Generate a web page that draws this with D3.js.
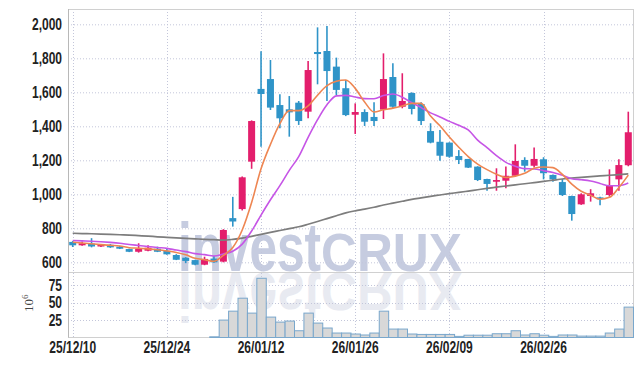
<!DOCTYPE html>
<html>
  <head>
    <meta charset="utf-8" />
    <script src="https://d3js.org/d3.v7.min.js"></script>
    <style>
      body { margin: 0; background: #fff; }
      .lbl { font-family: "Liberation Sans", Arial, sans-serif; font-size: 16px; font-weight: bold; fill: #222; }
    </style>
  </head>
  <body>
    <script>
      // trading days shown on the chart
      const dates = [
        "25/12/10","25/12/11","25/12/12","25/12/15","25/12/16","25/12/17","25/12/18","25/12/19","25/12/22","25/12/23",
        "25/12/24","25/12/26","25/12/29","25/12/30","26/01/02","26/01/05","26/01/06","26/01/07","26/01/08","26/01/09",
        "26/01/12","26/01/13","26/01/14","26/01/15","26/01/16","26/01/19","26/01/20","26/01/21","26/01/22","26/01/23",
        "26/01/26","26/01/27","26/01/28","26/01/29","26/01/30","26/02/02","26/02/03","26/02/04","26/02/05","26/02/06",
        "26/02/09","26/02/10","26/02/11","26/02/12","26/02/13","26/02/19","26/02/20","26/02/23","26/02/24","26/02/25",
        "26/02/26","26/02/27","26/03/03","26/03/04","26/03/05","26/03/06","26/03/09","26/03/10","26/03/11","26/03/12"
      ];
      const tickDates = ["25/12/10", "25/12/24", "26/01/12", "26/01/26", "26/02/09", "26/02/26"];
      const priceTicks = [600, 800, 1000, 1200, 1400, 1600, 1800, 2000];
      const volTicks = [25, 50, 75];

      const open = [720,700,710,693,703,692,678,662,668,680, 668,643,627,613,586,622,604,860,913,1192,
        1620,1678,1525,1500,1539,1486,1837,1843,1751,1624, 1468,1484,1455,1498,1690,1515,1596,1531,1372,1309,
        1304,1225,1208,1163,1090,1074,1080,1109,1202,1168, 1206,1114,1072,990,941,990,982,996,1088,1171];
      const high = [725,722,742,708,708,697,680,712,700,692, 678,648,630,615,633,637,795,985,1105,1435,
        1842,1790,1588,1578,1549,1784,1982,1990,1804,1672, 1535,1500,1541,1829,1771,1712,1600,1541,1418,1378,
        1306,1260,1208,1165,1092,1153,1163,1294,1218,1276, 1218,1116,1090,992,1006,1030,985,1147,1206,1486];
      const low = [690,697,688,690,685,678,660,657,665,660, 645,613,595,583,583,598,600,810,905,1150,
        1280,1496,1388,1339,1408,1447,1647,1549,1584,1460, 1355,1402,1402,1443,1506,1506,1470,1408,1300,1198,
        1215,1178,1155,1078,1021,1021,1035,1103,1133,1157, 1088,1074,990,845,938,957,935,986,1021,1165];
      const close = [700,712,693,705,688,680,662,680,686,662, 647,615,608,586,620,600,790,840,1100,1431,
        1590,1510,1447,1482,1431,1731,1825,1725,1614,1466, 1484,1427,1431,1678,1515,1549,1502,1431,1304,1227,
        1221,1202,1157,1084,1061,1084,1109,1196,1168,1208, 1124,1088,996,884,1000,1006,971,1051,1172,1365];
      // volume in millions
      const volume = [0,0,0,0,0,0,0,0,0,0, 0,0,0,0,0,1,25,37.8,56.4,35,
        85,29.3,22.1,23.6,9.7,35,20.7,13.6,6.4,6.4, 5,3.6,6.4,37.8,12.1,12.1,5,4.4,4.4,4.4,
        4.4,1.6,3.3,3.3,3.3,5.4,5.4,9.7,3.6,5.4, 3.3,1.6,3.6,3.6,2,2,2,6.4,12.1,43.6];

      // moving averages as drawn
      const maShort = [718,714,709,704,700,696,686,683,679,674, 667,658,644,624,615,606,641,687,790,952,
        1150,1294,1416,1492,1492,1520,1583,1639,1665,1672, 1623,1543,1484,1497,1507,1520,1535,1535,1460,1403,
        1337,1277,1222,1178,1145,1118,1099,1107,1124,1153, 1161,1157,1117,1060,1018,995,971,982,1040,1113];
      const maMid = [728,726,724,721,717,712,705,699,693,687, 682,672,663,651,645,637,649,665,707,784,
        878,968,1051,1141,1222,1335,1439,1527,1579,1582, 1572,1563,1562,1581,1590,1571,1539,1510,1479,1455,
        1429,1406,1379,1319,1274,1227,1188,1165,1151,1149, 1139,1128,1112,1092,1086,1078,1064,1050,1050,1066];
      const maLong = [771,769,768,766,764,762,760,757,754,750, 747,744,741,738,735,733,731,735,742,753,
        764,776,787,798,809,824,840,857,874,891, 903,913,924,937,948,959,970,979,988,996,
        1004,1011,1019,1027,1035,1042,1049,1056,1062,1069, 1076,1083,1090,1095,1100,1104,1108,1112,1116,1120];

      const width = 642, height = 366;
      const plotLeft = 68, plotRight = 633, plotTop = 9, priceBottom = 272, volBottom = 337.5;

      const svg = d3.select("body").append("svg")
        .attr("width", width).attr("height", height);

      const x = d3.scaleBand().domain(dates).range([plotLeft, plotRight]).padding(0);
      const cx = (d) => x(d) + x.bandwidth() / 2;
      const y = d3.scaleLinear().domain([543, 2090]).range([priceBottom, plotTop]);
      const yVol = d3.scaleLinear().domain([0, 94]).range([volBottom, priceBottom]);

      const gridColor = "#c3c6da";

      // watermark + reflection
      function watermark(g, fill) {
        g.append("text").attr("x", 178).attr("y", 271)
          .attr("textLength", 143).attr("lengthAdjust", "spacingAndGlyphs")
          .style("font-family", "Liberation Sans").style("font-weight", "bold")
          .style("font-size", "68px").attr("fill", fill).text("invest");
        g.append("text").attr("x", 321).attr("y", 271)
          .attr("textLength", 141).attr("lengthAdjust", "spacingAndGlyphs")
          .style("font-family", "Liberation Sans").style("font-weight", "bold")
          .style("font-size", "53px").attr("fill", fill).text("CRUX");
      }
      watermark(svg.append("g"), "#c6cce0");
      watermark(svg.append("g").attr("transform", `translate(0,${priceBottom * 2}) scale(1,-1)`), "#e8eaf1");

      // grid
      svg.append("g").selectAll("line").data(priceTicks).join("line")
        .attr("x1", plotLeft).attr("x2", plotRight)
        .attr("y1", (d) => y(d) + 0.5).attr("y2", (d) => y(d) + 0.5)
        .attr("stroke", gridColor).attr("stroke-dasharray", "1,2");
      svg.append("g").selectAll("line").data(volTicks).join("line")
        .attr("x1", plotLeft).attr("x2", plotRight)
        .attr("y1", (d) => Math.round(yVol(d)) + 0.5).attr("y2", (d) => Math.round(yVol(d)) + 0.5)
        .attr("stroke", gridColor).attr("stroke-dasharray", "1,2");
      svg.append("g").selectAll("line").data(tickDates).join("line")
        .attr("x1", (d) => Math.round(cx(d)) + 0.5).attr("x2", (d) => Math.round(cx(d)) + 0.5)
        .attr("y1", plotTop).attr("y2", volBottom)
        .attr("stroke", gridColor).attr("stroke-dasharray", "1,2");

      // frame
      const frame = svg.append("g").attr("stroke", "#d0d0d0").attr("fill", "none");
      frame.append("line").attr("x1", plotLeft).attr("x2", plotRight + 0.5).attr("y1", plotTop + 0.5).attr("y2", plotTop + 0.5);
      frame.append("line").attr("x1", plotLeft).attr("x2", plotRight + 0.5).attr("y1", priceBottom + 0.5).attr("y2", priceBottom + 0.5);
      frame.append("line").attr("x1", plotLeft).attr("x2", plotRight + 0.5).attr("y1", volBottom).attr("y2", volBottom);
      frame.append("line").attr("x1", plotRight + 0.5).attr("x2", plotRight + 0.5).attr("y1", plotTop).attr("y2", volBottom);
      frame.append("line").attr("x1", plotLeft + 0.5).attr("x2", plotLeft + 0.5).attr("y1", plotTop).attr("y2", volBottom)
        .attr("stroke", "#b8b8b8");

      // volume bars
      svg.append("g").selectAll("rect").data(dates).join("rect")
        .attr("x", (d) => x(d) + 0.5)
        .attr("width", x.bandwidth())
        .attr("y", (d, i) => yVol(volume[i]))
        .attr("height", (d, i) => volBottom - yVol(volume[i]))
        .attr("fill", "#d8d8d8").attr("stroke", "#79a7cc").attr("stroke-width", 1)
        .attr("display", (d, i) => volume[i] > 0 ? null : "none");

      // candles
      const up = "#e31e6c", down = "#2f94c8";
      const candles = svg.append("g").selectAll("g").data(dates).join("g");
      candles.append("line")
        .attr("x1", cx).attr("x2", cx)
        .attr("y1", (d, i) => y(high[i])).attr("y2", (d, i) => y(low[i]))
        .attr("stroke", (d, i) => close[i] >= open[i] ? up : down)
        .attr("stroke-width", 1.6);
      const bw = 7;
      candles.append("rect")
        .attr("x", (d) => cx(d) - bw / 2).attr("width", bw)
        .attr("y", (d, i) => y(Math.max(open[i], close[i])))
        .attr("height", (d, i) => Math.max(1.5, Math.abs(y(open[i]) - y(close[i]))))
        .attr("fill", (d, i) => close[i] >= open[i] ? up : down);

      // moving averages
      const line = (vals) => d3.line()
        .x((d, i) => cx(dates[i]))
        .y((d) => y(d))
        .curve(d3.curveMonotoneX)(vals);
      svg.append("path").attr("d", line(maLong)).attr("fill", "none").attr("stroke", "#7d7d7d").attr("stroke-width", 1.7);
      svg.append("path").attr("d", line(maMid)).attr("fill", "none").attr("stroke", "#c655e6").attr("stroke-width", 1.6);
      svg.append("path").attr("d", line(maShort)).attr("fill", "none").attr("stroke", "#ee8652").attr("stroke-width", 1.6);

      // axes labels
      svg.append("g").attr("transform", `translate(${plotLeft},0)`)
        .call(d3.axisLeft(y).tickValues(priceTicks).tickSize(0).tickPadding(6).tickFormat(d3.format(",")))
        .call((g) => g.select(".domain").remove())
        .selectAll("text").attr("class", "lbl");
      svg.append("g").attr("transform", `translate(${plotLeft},0)`)
        .call(d3.axisLeft(yVol).tickValues(volTicks).tickSize(0).tickPadding(6))
        .call((g) => g.select(".domain").remove())
        .selectAll("text").attr("class", "lbl");
      svg.append("g").attr("transform", `translate(0,${volBottom})`)
        .call(d3.axisBottom(x).tickValues(tickDates).tickSize(0).tickPadding(4))
        .call((g) => g.select(".domain").remove())
        .selectAll("text").attr("class", "lbl");
      svg.selectAll("g[font-family]").attr("font-family", null).attr("font-size", null);

      // squeeze labels to a narrow face
      svg.selectAll(".lbl").each(function () {
        const w = this.getComputedTextLength();
        d3.select(this).attr("textLength", w * 0.75).attr("lengthAdjust", "spacingAndGlyphs");
      });

      // volume unit
      const unit = svg.append("text")
        .attr("transform", "translate(33,312) rotate(-90)")
        .style("font-family", "Liberation Serif").style("font-size", "13px").attr("fill", "#444");
      unit.append("tspan").text("10");
      unit.append("tspan").attr("dy", -5).style("font-size", "9px").text("6");
    </script>
  </body>
</html>
